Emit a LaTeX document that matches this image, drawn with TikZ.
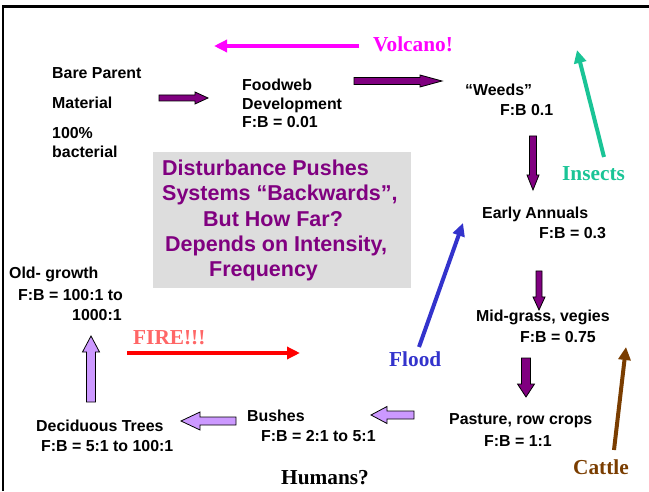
\documentclass[tikz,border=0pt]{standalone}
\usepackage{fontspec}
\setmainfont{Liberation Serif}
\setsansfont{Liberation Sans}
\usetikzlibrary{calc,arrows.meta}
\definecolor{stagepurple}{RGB}{128,0,128}
\definecolor{stagelilac}{RGB}{204,153,255}
\definecolor{volcanopink}{RGB}{255,0,255}
\definecolor{insectgreen}{RGB}{26,196,150}
\definecolor{floodblue}{RGB}{51,51,204}
\definecolor{cattlebrown}{RGB}{122,61,0}
\definecolor{firered}{RGB}{255,102,102}
\definecolor{firearrow}{RGB}{255,0,0}
\definecolor{boxgray}{RGB}{221,221,221}
% block arrow: style, from, to, shaft half width, head half width, head length
\newcommand{\blockarrow}[6]{%
  \coordinate (hb) at ($(#3)!#6!(#2)$);
  \draw[#1] ($(#2)!#4!90:(#3)$) -- ($(hb)!#4!-90:(#2)$) -- ($(hb)!#5!-90:(#2)$) -- (#3)
    -- ($(hb)!#5!90:(#2)$) -- ($(hb)!#4!90:(#2)$) -- ($(#2)!#4!-90:(#3)$) -- cycle;}
\begin{document}
\begin{tikzpicture}[x=1pt,y=1pt,
  stage/.style={anchor=west,inner sep=0pt,align=left,font=\sffamily\bfseries\fontsize{15.9}{18.5}\selectfont},
  event/.style={anchor=west,inner sep=0pt,font=\rmfamily\bfseries\fontsize{21.3}{24}\selectfont},
  push/.style={line width=4pt,-{Triangle[length=13pt,width=12pt]}},
  forward/.style={draw=black,line width=0.8pt,fill=stagepurple},
  regrow/.style={draw=black,line width=0.8pt,fill=stagelilac}]
\useasboundingbox (0,0) rectangle (649,491);
\draw[line width=2.5pt] (3,0) -- (3,484.5) -- (649,484.5);

% centre box
\node[fill=boxgray,inner sep=0pt,minimum width=258,minimum height=136] (box) at (282,271) {};
\node[anchor=west,inner sep=0pt,align=left,text=stagepurple,
  font=\sffamily\bfseries\fontsize{21.5}{25.3}\selectfont] (title) at (162,270.5)
  {Disturbance Pushes\\
   Systems “Backwards”,\\
   \hspace*{41pt}But How Far?\\
   \hspace*{3pt}Depends on Intensity,\\
   \hspace*{47pt}Frequency};

% succession stages
\node[stage] (bare) at (52,417.5) {Bare Parent};
\node[stage] (material) at (52,388.5) {Material};
\node[stage] (bacterial) at (52,348.5) {100\%\\bacterial};
\node[stage] (food) at (242,387.5) {Foodweb\\Development\\F:B = 0.01};
\node[stage] (weeds) at (465,401.5) {“Weeds”};
\node[stage] (weedsfb) at (500,381) {F:B 0.1};
\node[stage] (early) at (482,277) {Early Annuals};
\node[stage] (earlyfb) at (539,257.5) {F:B = 0.3};
\node[stage] (mid) at (476,174) {Mid-grass, vegies};
\node[stage] (midfb) at (520,154.3) {F:B = 0.75};
\node[stage] (pasture) at (449,70) {Pasture, row crops};
\node[stage] (pasturefb) at (484,50) {F:B = 1:1};
\node[stage] (bushes) at (247,75) {Bushes};
\node[stage] (bushesfb) at (261,55) {F:B = 2:1 to 5:1};
\node[stage] (decid) at (36,65) {Deciduous Trees};
\node[stage] (decidfb) at (41,45) {F:B = 5:1 to 100:1};
\node[stage] (old) at (9,217) {Old- growth};
\node[stage] (oldfb) at (18,196) {F:B = 100:1 to};
\node[stage] (oldfbb) at (72,176) {1000:1};

% disturbances
\node[event,text=volcanopink] (volcano) at (373,446.7) {Volcano!};
\node[event,text=insectgreen] (insects) at (562,317) {Insects};
\node[event,text=floodblue] (flood) at (389,132) {Flood};
\node[event,text=cattlebrown] (cattle) at (573,23.5) {Cattle};
\node[event,text=firered] (fire) at (133,153.5) {FIRE!!!};
\node[event] (humans) at (281,13) {Humans?};

% arrow ends
\coordinate (bare-out) at (159,393);   \coordinate (food-in) at (208,393);
\coordinate (food-out) at (354,410);   \coordinate (weeds-in) at (442,410);
\coordinate (weeds-out) at (533,355);  \coordinate (early-in) at (533,301);
\coordinate (early-out) at (539,220);  \coordinate (mid-in) at (539,181);
\coordinate (mid-out) at (526,133);    \coordinate (pasture-in) at (526,94);
\coordinate (pasture-out) at (414,76); \coordinate (bushes-in) at (371,76);
\coordinate (bushes-out) at (236,70);  \coordinate (decid-in) at (181,70);
\coordinate (decid-out) at (91,89);    \coordinate (old-in) at (91,155);

\coordinate (volc-s) at (359,445);  \coordinate (volc-t) at (214,445);
\coordinate (ins-s) at (604,334);   \coordinate (ins-t) at (577,441);
\coordinate (flood-s) at (419,144); \coordinate (flood-t) at (463,268);
\coordinate (cattle-s) at (614,41); \coordinate (cattle-t) at (626,144);
\coordinate (fire-s) at (127,138);  \coordinate (fire-t) at (300,138);

\blockarrow{forward}{bare-out}{food-in}{3pt}{6pt}{13pt}
\blockarrow{forward}{food-out}{weeds-in}{3.5pt}{6pt}{22pt}
\blockarrow{forward}{weeds-out}{early-in}{3.5pt}{6pt}{15pt}
\blockarrow{forward}{early-out}{mid-in}{3pt}{6pt}{13pt}
\blockarrow{forward}{mid-out}{pasture-in}{4.5pt}{8.5pt}{13pt}
\blockarrow{regrow}{pasture-out}{bushes-in}{4pt}{8.5pt}{16pt}
\blockarrow{regrow}{bushes-out}{decid-in}{4pt}{9pt}{19pt}
\blockarrow{regrow}{decid-out}{old-in}{4.5pt}{8.5pt}{16pt}

\draw[push,volcanopink] (volc-s) -- (volc-t);
\draw[push,insectgreen] (ins-s) -- (ins-t);
\draw[push,floodblue] (flood-s) -- (flood-t);
\draw[push,cattlebrown] (cattle-s) -- (cattle-t);
\draw[push,firearrow] (fire-s) -- (fire-t);
\end{tikzpicture}
\end{document}
